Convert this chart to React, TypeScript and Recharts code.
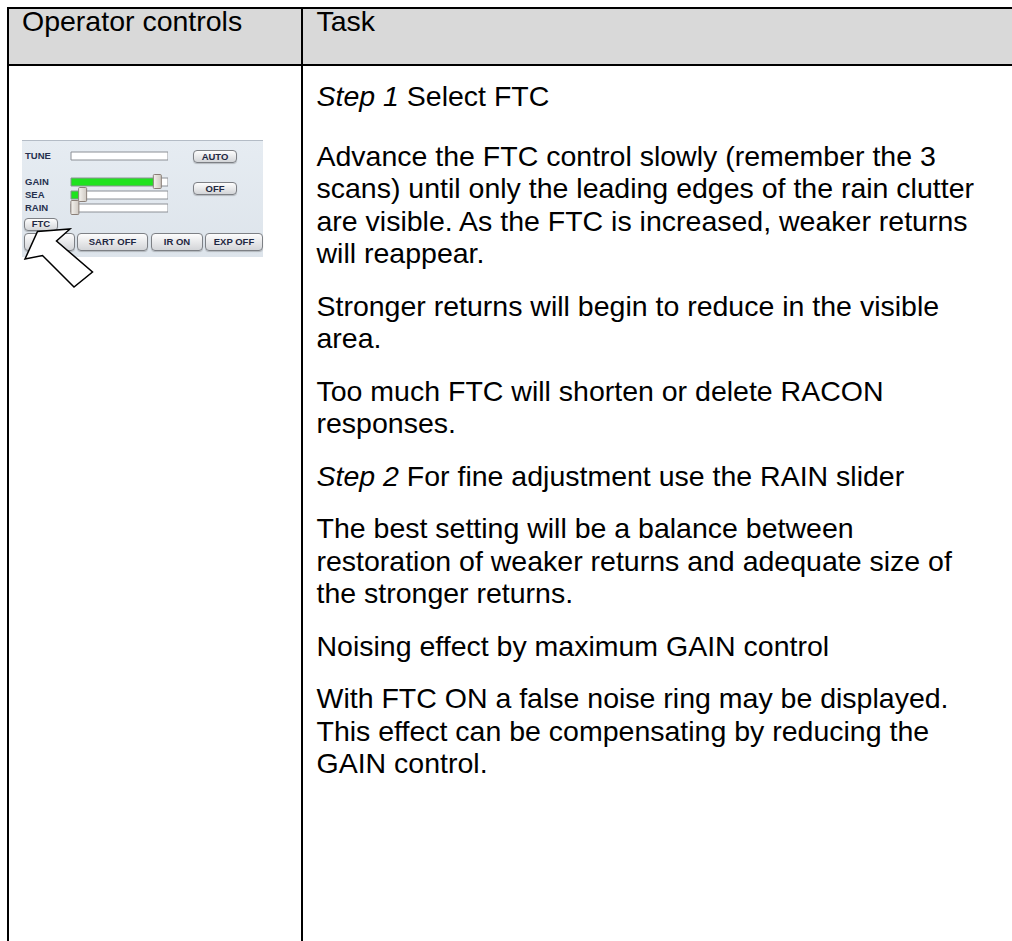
import React from 'react';
import { ComposedChart, Bar, Line, XAxis, YAxis } from 'recharts';

// ---- data ----
const sliderNames = ['TUNE', '', 'GAIN', 'SEA', 'RAIN'];
const sliderLevels = [0, null, 89, 9, 0];
const thumbPositions = [null, null, 89, 12, 4];
const SLIDER_MAX = 100;

const sideButtons = ['AUTO', 'OFF'];
const bottomButtons = ['', 'SART OFF', 'IR ON', 'EXP OFF'];

const headerTitles = ['Operator controls', 'Task'];

const taskParagraphs: string[][] = [
  ['Step 1 Select FTC'],
  [
    'Advance the FTC control slowly (remember the 3',
    'scans) until only the leading edges of the rain clutter',
    'are visible. As the FTC is increased, weaker returns',
    'will reappear.',
  ],
  ['Stronger returns will begin to reduce in the visible', 'area.'],
  ['Too much FTC will shorten or delete RACON', 'responses.'],
  ['Step 2 For fine adjustment use the RAIN slider'],
  [
    'The best setting will be a balance between',
    'restoration of weaker returns and adequate size of',
    'the stronger returns.',
  ],
  ['Noising effect by maximum GAIN control'],
  [
    'With FTC ON a false noise ring may be displayed.',
    'This effect can be compensating by reducing the',
    'GAIN control.',
  ],
];
const italicLeads = ['Step 1', 'Step 2'];

const sliderRows = sliderNames.map((name, i) => ({
  name,
  level: sliderLevels[i],
  rest: sliderLevels[i] == null ? null : SLIDER_MAX - (sliderLevels[i] as number),
  thumb: thumbPositions[i],
}));

// ---- styles ----
const FONT = '"Liberation Sans", Arial, Helvetica, sans-serif';
const TEXT_SIZE = 28.5;
const LINE_H = 32.5;
const PARA_GAP = 20;
const FIRST_GAP = 27;

const Thumb = (props: any) => {
  const { cx, cy, value, index } = props;
  if (value == null || cx == null || cy == null) return <g key={`t${index}`} />;
  return (
    <g key={`t${index}`}>
      <defs>
        <linearGradient id={`thumbGrad${index}`} x1="0" y1="0" x2="1" y2="0">
          <stop offset="0%" stopColor="#f4f2ee" />
          <stop offset="100%" stopColor="#cfc9c2" />
        </linearGradient>
      </defs>
      <rect
        x={cx - 4}
        y={cy - 7}
        width={8}
        height={14}
        rx={1}
        fill={`url(#thumbGrad${index})`}
        stroke="#8a7f78"
        strokeWidth={1}
      />
    </g>
  );
};

const SliderTick = (props: any) => {
  const { y, payload } = props;
  return (
    <text
      x={3}
      y={y}
      dy={3.3}
      fontSize={9.5}
      fontWeight="bold"
      fontFamily={FONT}
      fill="#26314f"
    >
      {payload.value}
    </text>
  );
};

const buttonStyle = (left: number, top: number, width: number, height: number): React.CSSProperties => ({
  position: 'absolute',
  left,
  top,
  width,
  height,
  boxSizing: 'border-box',
  background: 'linear-gradient(#fdfdfd, #d3d5d8)',
  border: '1px solid #7d8085',
  borderRadius: 4,
  boxShadow: '0 1px 1px rgba(0,0,0,0.2)',
  fontFamily: FONT,
  fontWeight: 'bold',
  fontSize: 9.5,
  lineHeight: 1,
  color: '#1f2842',
  display: 'flex',
  alignItems: 'center',
  justifyContent: 'center',
  whiteSpace: 'nowrap',
  overflow: 'hidden',
});

const renderLine = (line: string, key: number) => {
  const lead = italicLeads.find((l) => line.startsWith(l));
  if (lead) {
    return (
      <div key={key}>
        <i>{lead}</i>
        {line.slice(lead.length)}
      </div>
    );
  }
  return <div key={key}>{line}</div>;
};

const sideButtonGeom = [
  [193, 150, 44, 13],
  [193, 182, 44, 13],
];
const bottomButtonGeom = [
  [24, 233, 51, 18],
  [77, 233, 71, 18],
  [151, 233, 52, 18],
  [205, 233, 58, 18],
];

export default function App() {
  return (
    <div
      style={{
        position: 'absolute',
        left: 0,
        top: 0,
        width: 1012,
        height: 941,
        overflow: 'hidden',
        background: '#ffffff',
        fontFamily: FONT,
        color: '#000',
      }}
    >
      {/* header background */}
      <div style={{ position: 'absolute', left: 9, top: 9, width: 1003, height: 55, background: '#d9d9d9' }} />
      {/* grid lines */}
      <div style={{ position: 'absolute', left: 7, top: 7, width: 1005, height: 2, background: '#000' }} />
      <div style={{ position: 'absolute', left: 7, top: 64, width: 1005, height: 2, background: '#000' }} />
      <div style={{ position: 'absolute', left: 7, top: 7, width: 2, height: 934, background: '#000' }} />
      <div style={{ position: 'absolute', left: 301, top: 7, width: 2, height: 934, background: '#000' }} />

      {/* header titles */}
      <div style={{ position: 'absolute', left: 22, top: 5, fontSize: TEXT_SIZE, lineHeight: '33px', whiteSpace: 'nowrap' }}>
        {headerTitles[0]}
      </div>
      <div style={{ position: 'absolute', left: 316.5, top: 5, fontSize: TEXT_SIZE, lineHeight: '33px', whiteSpace: 'nowrap' }}>
        {headerTitles[1]}
      </div>

      {/* task text */}
      <div
        style={{
          position: 'absolute',
          left: 316.5,
          top: 80,
          fontSize: TEXT_SIZE,
          lineHeight: `${LINE_H}px`,
          whiteSpace: 'nowrap',
        }}
      >
        {taskParagraphs.map((para, pi) => (
          <div key={pi} style={{ marginBottom: pi === 0 ? FIRST_GAP : PARA_GAP }}>
            {para.map((line, li) => renderLine(line, li))}
          </div>
        ))}
      </div>

      {/* control panel */}
      <div
        style={{
          position: 'absolute',
          left: 22,
          top: 140,
          width: 241,
          height: 117,
          background: 'linear-gradient(#e6ecf2, #dde4eb)',
          borderTop: '1px solid #b4bcc6',
          boxSizing: 'border-box',
        }}
      />
      <div style={{ position: 'absolute', left: 22, top: 146.5 }}>
        <ComposedChart
          width={146}
          height={69}
          layout="vertical"
          data={sliderRows}
          margin={{ top: 2, bottom: 2, left: 0, right: 0 }}
        >
          <XAxis type="number" domain={[0, SLIDER_MAX]} hide />
          <YAxis
            type="category"
            dataKey="name"
            width={49}
            axisLine={false}
            tickLine={false}
            tick={<SliderTick />}
            interval={0}
          />
          <Bar
            dataKey="level"
            stackId="slider"
            barSize={8}
            fill="#1fe21f"
            stroke="#8c9096"
            strokeWidth={1}
            isAnimationActive={false}
          />
          <Bar
            dataKey="rest"
            stackId="slider"
            barSize={8}
            fill="#ffffff"
            stroke="#8c9096"
            strokeWidth={1}
            isAnimationActive={false}
          />
          <Line
            dataKey="thumb"
            stroke="none"
            dot={(p: any) => <Thumb {...p} />}
            activeDot={false}
            isAnimationActive={false}
          />
        </ComposedChart>
      </div>
      {sideButtons.map((b, i) => {
        const [l, t, w, h] = sideButtonGeom[i];
        return (
          <div key={b} style={buttonStyle(l, t, w, h)}>
            {b}
          </div>
        );
      })}
      <div style={buttonStyle(24, 217.5, 34, 13)}>FTC</div>
      {bottomButtons.map((b, i) => {
        const [l, t, w, h] = bottomButtonGeom[i];
        return (
          <div key={i} style={buttonStyle(l, t, w, h)}>
            {b}
          </div>
        );
      })}
      {/* pointer arrow */}
      <svg style={{ position: 'absolute', left: 0, top: 0 }} width={320} height={320}>
        <polygon
          points="37.5,231.5 70,229 56.5,241 92.5,272 74,287 42.5,255.5 25,259"
          fill="#ffffff"
          stroke="#000000"
          strokeWidth={1.5}
          strokeLinejoin="miter"
        />
      </svg>
    </div>
  );
}
